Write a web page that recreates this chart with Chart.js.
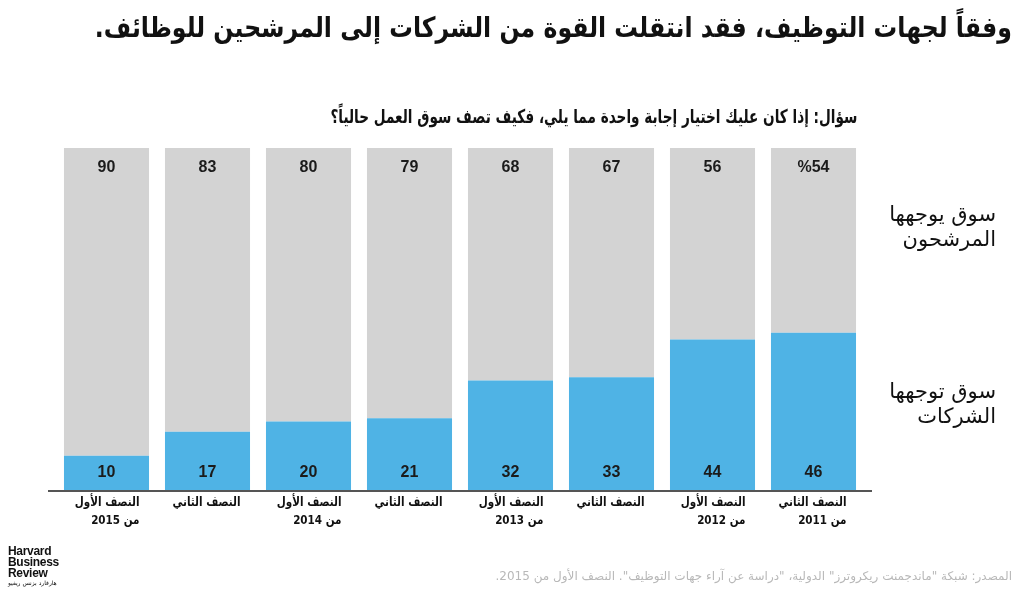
<!DOCTYPE html>
<html lang="ar">
<head>
<meta charset="utf-8">
<script src="https://cdn.jsdelivr.net/npm/chart.js@4.4.1/dist/chart.umd.min.js"></script>
<style>
  body { margin: 0; background: #fff; width: 1024px; height: 589px; overflow: hidden; position: relative; }
  #chartBox { position: absolute; left: 0; top: 0; width: 1024px; height: 589px; }
  .txt { position: absolute; direction: rtl; text-align: right; font-family: "DejaVu Sans", sans-serif; color: #111; white-space: nowrap; transform-origin: right center; }
  #title { right: 12px; top: 11px; font-size: 28px; font-weight: bold; }
  #question { right: 167px; top: 105px; font-size: 19px; font-weight: bold; }
  .side { right: 28px; font-size: 21px; line-height: 25px; }
  #candLbl { top: 202px; }
  #empLbl { top: 379px; }
  #source { right: 12px; top: 569px; font-size: 12px; color: #b8b8b8; }
  #logo { position: absolute; left: 8px; top: 546px; font-family: "Liberation Sans", Arial, sans-serif; font-weight: bold; font-size: 12px; line-height: 11px; letter-spacing: -0.3px; color: #111; }
  #logo .ar { font-family: "DejaVu Sans", sans-serif; font-size: 6px; font-weight: normal; line-height: 8px; letter-spacing: 0; direction: rtl; text-align: left; }
</style>
</head>
<body>
<div id="chartBox"><canvas id="myChart" width="1024" height="589"></canvas></div>
<div class="txt" id="title">وفقاً لجهات التوظيف، فقد انتقلت القوة من الشركات إلى المرشحين للوظائف.</div>
<div class="txt" id="question">سؤال: إذا كان عليك اختيار إجابة واحدة مما يلي، فكيف تصف سوق العمل حالياً؟</div>
<div class="txt side" id="candLbl">سوق يوجهها<br>المرشحون</div>
<div class="txt side" id="empLbl">سوق توجهها<br>الشركات</div>
<div class="txt" id="source">المصدر: شبكة "ماندجمنت ريكروترز" الدولية، "دراسة عن آراء جهات التوظيف". النصف الأول من 2015.</div>
<div id="logo">Harvard<br>Business<br>Review<div class="ar">هارفارد بزنس ريفيو</div></div>
<script>
// periods, left to right as in the picture (newest on the left)
const periods = [
  ['النصف الأول', 'من 2015'],
  ['النصف الثاني'],
  ['النصف الأول', 'من 2014'],
  ['النصف الثاني'],
  ['النصف الأول', 'من 2013'],
  ['النصف الثاني'],
  ['النصف الأول', 'من 2012'],
  ['النصف الثاني', 'من 2011']
];
// share saying "market driven by employers" (blue, bottom)
const employerDriven = [10, 17, 20, 21, 32, 33, 44, 46];
// share saying "market driven by candidates" (grey, top)
const candidateDriven = [90, 83, 80, 79, 68, 67, 56, 54];
// printed labels for the grey segments
const candidateLabels = ['90', '83', '80', '79', '68', '67', '56', '%54'];

const BLUE = '#4fb3e5';
const GREY = '#d3d3d3';

// squeeze the wide fallback Arabic font to the width the headline has in the original
function fitWidth(id, w) {
  const el = document.getElementById(id);
  const real = el.getBoundingClientRect().width;
  if (real > w) el.style.transform = 'scaleX(' + (w / real) + ')';
}
fitWidth('title', 917);
fitWidth('question', 527);

// numbers inside the bars, axis line and two-line period labels
const barText = {
  id: 'barText',
  afterDatasetsDraw(chart) {
    const ctx = chart.ctx;
    ctx.save();
    ctx.font = 'bold 16px "Liberation Sans", Arial, sans-serif';
    ctx.fillStyle = '#1b1b1b';
    ctx.textAlign = 'center';
    ctx.textBaseline = 'middle';
    chart.getDatasetMeta(0).data.forEach((bar, i) => {
      ctx.fillText(String(employerDriven[i]), bar.x, bar.base - 17);
    });
    chart.getDatasetMeta(1).data.forEach((bar, i) => {
      ctx.fillText(candidateLabels[i], bar.x, bar.y + 20);
    });

    const area = chart.chartArea;
    ctx.strokeStyle = '#555';
    ctx.lineWidth = 2;
    ctx.beginPath();
    ctx.moveTo(area.left - 8, area.bottom + 1);
    ctx.lineTo(area.right + 8, area.bottom + 1);
    ctx.stroke();

    const xs = chart.scales.x;
    ctx.font = 'bold 13px "DejaVu Sans", sans-serif';
    ctx.direction = 'rtl';
    ctx.textAlign = 'right';
    ctx.fillStyle = '#111';
    periods.forEach((lines, i) => {
      const x = xs.getPixelForValue(i) + 33;
      lines.forEach((line, j) => {
        ctx.save();
        ctx.translate(x, area.bottom + 13 + j * 18);
        ctx.scale(0.8, 1);
        ctx.fillText(line, 0, 0);
        ctx.restore();
      });
    });
    ctx.restore();
  }
};

const ctx = document.getElementById('myChart').getContext('2d');
const myChart = new Chart(ctx, {
  type: 'bar',
  data: {
    labels: periods.map(p => p.join(' ')),
    datasets: [
      {
        label: 'سوق توجهها الشركات',
        data: employerDriven,
        backgroundColor: BLUE,
        borderWidth: 0,
        barPercentage: 0.842,
        categoryPercentage: 1
      },
      {
        label: 'سوق يوجهها المرشحون',
        data: candidateDriven,
        backgroundColor: GREY,
        borderWidth: 0,
        barPercentage: 0.842,
        categoryPercentage: 1
      }
    ]
  },
  options: {
    responsive: false,
    animation: false,
    layout: { padding: { left: 56, right: 160, top: 148, bottom: 99 } },
    plugins: {
      legend: { display: false },
      tooltip: { enabled: false }
    },
    scales: {
      x: { stacked: true, display: false },
      y: { stacked: true, display: false, min: 0, max: 100 }
    }
  },
  plugins: [barText]
});
</script>
</body>
</html>
